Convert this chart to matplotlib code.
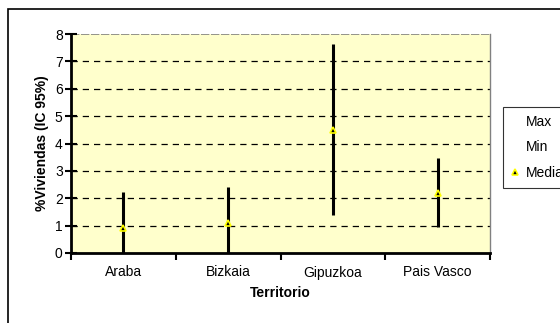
import matplotlib
matplotlib.use("Agg")
import matplotlib.pyplot as plt
from matplotlib.patches import Rectangle

plt.rcParams["font.family"] = ["Liberation Sans", "DejaVu Sans"]

territorios = ["Araba", "Bizkaia", "Gipuzkoa", "Pais Vasco"]
maximo = [2.24, 2.40, 7.63, 3.47]
minimo = [0.0, 0.0, 1.39, 0.96]
media = [0.93, 1.08, 4.49, 2.18]

fig = plt.figure(figsize=(5.6, 3.23), dpi=100)
fig.patch.set_facecolor("white")
# outer chart frame (runs past the right/bottom edge like the screenshot)
fig.patches.append(Rectangle((8 / 560, -0.05), 1.2, 1 - 9 / 323 + 0.05,
                             transform=fig.transFigure, fill=False,
                             edgecolor="black", lw=1.2))

ax = fig.add_axes([71 / 560, 1 - 253 / 323, 419 / 560, 219 / 323])
ax.set_facecolor("#FFFFCC")

xs = [i + 0.5 for i in range(len(territorios))]
for x, lo, hi in zip(xs, minimo, maximo):
    ax.plot([x, x], [lo, hi], color="black", lw=2.2, solid_capstyle="butt", zorder=3)
ax.plot([], [], ls="none", label="Max")
ax.plot([], [], ls="none", label="Min")
ax.plot(xs, media, ls="none", marker="^", ms=5, mfc="black", mec="#FFFF00",
        mew=1.2, zorder=4, label="Media")

ax.set_xlim(0, 4)
ax.set_ylim(0, 8)
ax.set_yticks(range(0, 9))
ax.set_xticks([0, 1, 2, 3, 4])
ax.set_xticklabels([])
ax.set_xticks(xs, minor=True)
ax.set_xticklabels(territorios, minor=True)
ax.tick_params(axis="x", which="minor", length=0, pad=9, labelsize=10)
ax.tick_params(axis="x", which="major", direction="out", length=5, width=1.5)
ax.tick_params(axis="y", direction="inout", length=8, width=1.5, labelsize=10, pad=2)
for y in range(1, 8):
    ax.axhline(y, color="black", lw=0.9, ls=(0, (5, 4)), zorder=1)
ax.axhline(8, color="gray", lw=1.2, ls=(0, (5, 1)), zorder=1)

ax.spines["left"].set_linewidth(2)
ax.spines["bottom"].set_linewidth(2)
ax.spines["top"].set_visible(False)
ax.spines["right"].set_color("gray")
ax.spines["right"].set_linewidth(1)

ax.set_xlabel("Territorio", fontsize=10, fontweight="bold", labelpad=5)
ax.set_ylabel("%Viviendas (IC 95%)", fontsize=10, fontweight="bold", labelpad=4)

leg = fig.legend(loc="upper left", bbox_to_anchor=(503 / 560, 1 - 107 / 323),
                 frameon=True, fancybox=False, fontsize=10, handlelength=0.6,
                 handletextpad=0.5, borderpad=0.55, labelspacing=0.85,
                 borderaxespad=0)
leg.get_frame().set_edgecolor("black")
leg.get_frame().set_linewidth(0.8)

fig.savefig("out.png", dpi=100)
